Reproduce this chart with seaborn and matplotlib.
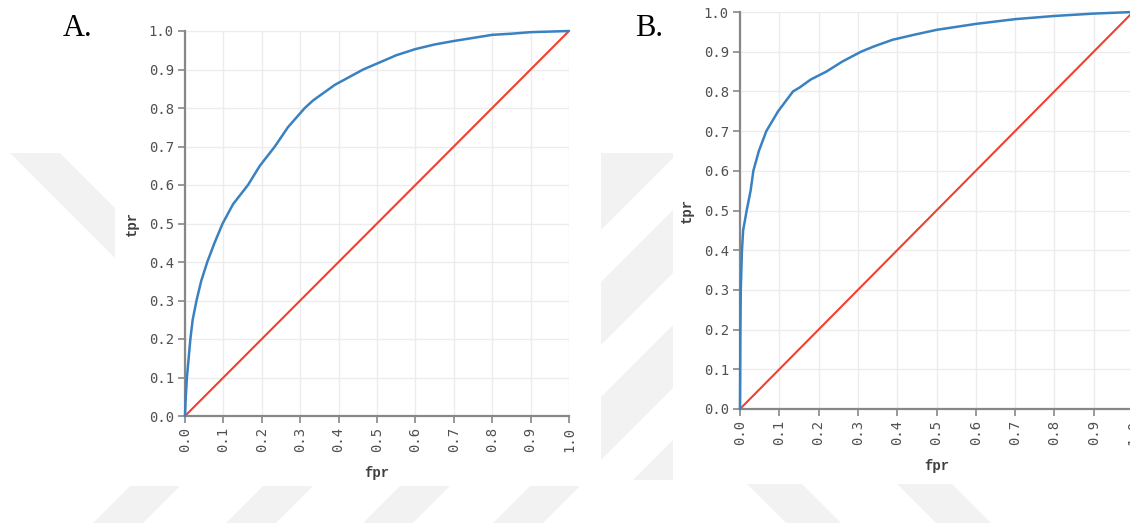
import numpy as np
import pandas as pd
import matplotlib
matplotlib.use("Agg")
import matplotlib.pyplot as plt
from matplotlib.patches import Polygon
import seaborn as sns

# ROC points
a_fpr = [0.0, 0.002, 0.005, 0.014, 0.02, 0.03, 0.042, 0.058, 0.077, 0.098, 0.125, 0.164,
         0.195, 0.234, 0.268, 0.312, 0.334, 0.39, 0.464, 0.534, 0.55, 0.6, 0.65, 0.7,
         0.75, 0.8, 0.85, 0.9, 1.0]
a_tpr = [0.0, 0.05, 0.1, 0.2, 0.25, 0.3, 0.35, 0.4, 0.45, 0.5, 0.55, 0.6,
         0.65, 0.7, 0.75, 0.8, 0.82, 0.86, 0.9, 0.93, 0.937, 0.953, 0.965, 0.974,
         0.982, 0.99, 0.993, 0.997, 1.0]

b_fpr = [0.0, 0.001, 0.002, 0.005, 0.008, 0.017, 0.027, 0.034, 0.048, 0.067, 0.097,
         0.135, 0.152, 0.18, 0.22, 0.26, 0.308, 0.34, 0.388, 0.44, 0.5, 0.6, 0.7,
         0.8, 0.9, 1.0]
b_tpr = [0.0, 0.2, 0.3, 0.4, 0.45, 0.5, 0.55, 0.6, 0.65, 0.7, 0.75,
         0.8, 0.81, 0.83, 0.85, 0.875, 0.9, 0.913, 0.93, 0.942, 0.955, 0.97, 0.982,
         0.99, 0.996, 1.0]

diag = [0.0, 1.0]
ticks = [0.0, 0.1, 0.2, 0.3, 0.4, 0.5, 0.6, 0.7, 0.8, 0.9, 1.0]
tick_labels = ["%.1f" % t for t in ticks]
panel_names = ["A.", "B."]

BLUE = "#3a81c1"
RED = "#f2402f"
AXIS = "#878787"
TEXT = "#505050"

sns.set_theme(style="white")
plt.rcParams["font.family"] = ["DejaVu Sans Mono"]

W, H = 1130, 523
fig = plt.figure(figsize=(W / 100, H / 100), dpi=100)


def px_poly(pts, color, z=-2):
    # pixel coords (top-left origin) -> figure fraction
    xy = [(x / W, 1 - y / H) for x, y in pts]
    fig.patches.append(Polygon(xy, closed=True, transform=fig.transFigure,
                               facecolor=color, edgecolor="none", zorder=z))


# faint watermark behind the two pasted charts
WM = "#f2f2f2"
px_poly([(10, 153), (60, 153), (220, 313), (170, 313)], WM)
px_poly([(601, 153), (673, 153), (673, 480), (601, 480)], WM)
for y0 in [230, 345, 460]:
    px_poly([(601, y0), (673, y0 - 72), (673, y0 - 20), (601, y0 + 52)], "white", -1.5)
for x0 in [130, 263, 400, 530]:
    px_poly([(x0, 486), (x0 + 50, 486), (x0 + 13, 523), (x0 - 37, 523)], WM)
for x0 in [747, 897]:
    px_poly([(x0, 484), (x0 + 55, 484), (x0 + 94, 523), (x0 + 39, 523)], WM)
px_poly([(115, 0), (601, 0), (601, 486), (115, 486)], "white", -1)
px_poly([(673, 0), (1130, 0), (1130, 483), (673, 483)], "white", -1)

boxes = [(185, 31, 569, 416), (740, 12, 1133, 409)]
curves = [(a_fpr, a_tpr), (b_fpr, b_tpr)]
label_pos = [(63, 28), (635, 28)]

for (l, t, r, b), (fpr, tpr), name, (lx, ly) in zip(boxes, curves, panel_names, label_pos):
    ax = fig.add_axes([l / W, 1 - b / H, (r - l) / W, (b - t) / H])
    ax.set_facecolor("white")
    roc = pd.DataFrame({"fpr": fpr, "tpr": tpr})
    ref = pd.DataFrame({"fpr": diag, "tpr": diag})
    sns.lineplot(data=roc, x="fpr", y="tpr", ax=ax, color=BLUE, lw=1.8,
                 estimator=None, sort=False, zorder=3, clip_on=False)
    sns.lineplot(data=ref, x="fpr", y="tpr", ax=ax, color=RED, lw=1.5,
                 estimator=None, sort=False, zorder=2)
    ax.set_xlim(0, 1)
    ax.set_ylim(0, 1)
    ax.set_xticks(ticks)
    ax.set_yticks(ticks)
    ax.set_xticklabels(tick_labels, rotation=90)
    ax.set_yticklabels(tick_labels)
    ax.grid(True, color="#ececec", lw=1)
    ax.set_axisbelow(True)
    for s in ["top", "right"]:
        ax.spines[s].set_visible(False)
    for s in ["left", "bottom"]:
        ax.spines[s].set_color(AXIS)
        ax.spines[s].set_linewidth(1.6)
    ax.tick_params(axis="both", which="both", length=5, width=1.2, color=AXIS,
                   labelcolor=TEXT, labelsize=10, pad=3, bottom=True, left=True)
    ax.set_xlabel("fpr", fontfamily="Liberation Mono", fontweight="bold",
                  fontsize=10, color="#404040", labelpad=10)
    ax.set_ylabel("tpr", fontfamily="Liberation Mono", fontweight="bold",
                  fontsize=10, color="#404040", labelpad=7)
    fig.text(lx / W, 1 - ly / H, name, ha="left", va="center",
             fontfamily="Liberation Serif", fontsize=22, color="black")

fig.savefig("out.png", dpi=100)
